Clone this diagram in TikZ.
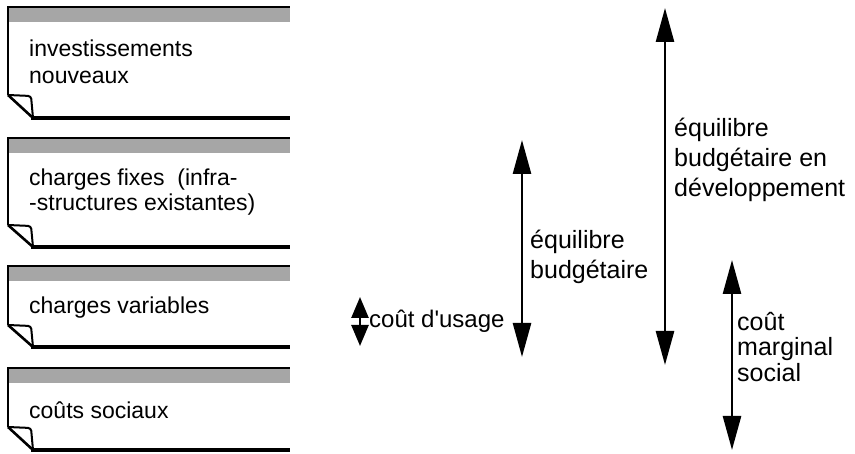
\documentclass[tikz,border=0pt]{standalone}
\usepackage{fontspec}
\setmainfont{Liberation Sans}
\usetikzlibrary{arrows.meta}
\begin{document}
\begin{tikzpicture}[x=1pt,y=-1pt,
  lbl/.style={anchor=west, inner sep=0pt, align=left},
  txt/.style={font=\fontsize{23}{#1}\selectfont},
  rtxt/.style={font=\fontsize{25}{#1}\selectfont},
  big/.style={line width=2.6pt, {Triangle[length=34pt,width=18pt]}-{Triangle[length=34pt,width=18pt]}},
  small/.style={line width=2.6pt, {Triangle[length=21pt,width=17pt]}-{Triangle[length=21pt,width=17pt]}},
]
\useasboundingbox (0,0) rectangle (855,454);
\newcommand\notecard[3]{%
  \fill[black!35] (8,#1) rectangle (290,{#1+15});
  \draw[line width=2.4pt] (7,#1) -- (290,#1);
  \draw[line width=2pt] (8,#1) -- (8,#2);
  \draw[line width=2.6pt] (8,#2) -- (33,#3);
  \draw[line width=2pt, rounded corners=3pt] (8,#2) -- (31,{#2+1}) -- (33,#3);
  \draw[line width=4.2pt] (31,#3) -- (290,#3);
}
\notecard{7}{95}{118}
\notecard{138}{225}{247}
\notecard{266}{325}{347}
\notecard{368}{427}{450}

\node[lbl, txt=27] (n1) at (29,62) {investissements\\nouveaux};
\node[lbl, txt=25] (n2) at (29,192) {charges fixes \ (infra-\\-structures existantes)};
\node[lbl, txt=25] (n3) at (29,308) {charges variables};
\node[lbl, txt=25] (n4) at (29,410) {coûts sociaux};

% arrows
\coordinate (u1) at (360,297);
\coordinate (u2) at (360,346);
\draw[small] (u1) -- (u2);
\node[lbl, font=\fontsize{24}{26}\selectfont] (lu) at (369,321) {coût d\textquotesingle usage};

\coordinate (b1) at (522,140);
\coordinate (b2) at (522,357);
\draw[big] (b1) -- (b2);
\node[lbl, rtxt=30] (lb) at (530,257) {équilibre\\budgétaire};

\coordinate (d1) at (665,8);
\coordinate (d2) at (665,365);
\draw[big] (d1) -- (d2);
\node[lbl, rtxt=30] (ld) at (674,160) {équilibre\\budgétaire en\\développement};

\coordinate (m1) at (732,260);
\coordinate (m2) at (732,450);
\draw[big] (m1) -- (m2);
\node[lbl, rtxt=25.5] (lm) at (737,347) {coût\\marginal\\social};
\end{tikzpicture}
\end{document}
